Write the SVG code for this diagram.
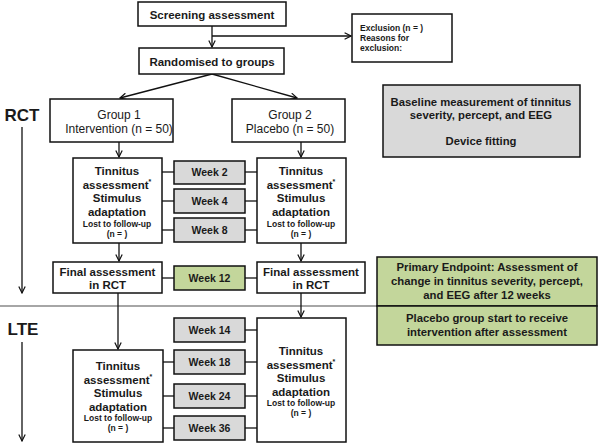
<svg xmlns="http://www.w3.org/2000/svg" width="600" height="444" viewBox="0 0 600 444">
<defs>
<style>
text{font-family:"Liberation Sans",Arial,sans-serif;font-weight:bold;fill:#1a1a1a;text-anchor:middle}
.box{fill:#fff;stroke:#111;stroke-width:1.5}
.gray{fill:#d9d9d9;stroke:#111;stroke-width:1.5}
.green{fill:#c3d69b;stroke:#111;stroke-width:1.5}
.ln{stroke:#111;stroke-width:1.3;fill:none}
.arr{stroke:#111;stroke-width:1.3;fill:none;marker-end:url(#ah)}
.sep{stroke:#888;stroke-width:1.3}
.t13{font-size:11.5px}
.tt{font-size:11.5px}
.t12{font-size:11.3px}
.t11{font-size:10.5px}
.t9{font-size:8.5px}
.t18{font-size:17px}
.reg{font-weight:normal;font-size:12px}
</style>
<marker id="ah" viewBox="0 0 10 10" refX="9" refY="5" markerWidth="8" markerHeight="8" markerUnits="userSpaceOnUse" orient="auto">
<path d="M1,1 L9,5 L1,9" fill="none" stroke="#111" stroke-width="1.5"/>
</marker>
</defs>
<rect width="600" height="444" fill="#fff"/>
<g id="connectors">
<line class="sep" x1="0" y1="306" x2="377" y2="306"/>
<line class="arr" x1="212" y1="26" x2="212" y2="47"/>
<line class="arr" x1="212" y1="36" x2="351" y2="36"/>
<line class="arr" x1="212" y1="74" x2="120" y2="98"/>
<line class="arr" x1="212" y1="74" x2="297" y2="98"/>
<line class="arr" x1="119" y1="142" x2="119" y2="157"/>
<line class="arr" x1="301" y1="142" x2="301" y2="157"/>
<line class="arr" x1="119" y1="243" x2="119" y2="261"/>
<line class="arr" x1="301" y1="243" x2="301" y2="261"/>
<line class="arr" x1="118" y1="293" x2="118" y2="349"/>
<line class="arr" x1="301" y1="293" x2="301" y2="317"/>
<line class="ln" x1="162" y1="172" x2="174" y2="172"/>
<line class="ln" x1="245" y1="172" x2="257" y2="172"/>
<line class="ln" x1="162" y1="201" x2="174" y2="201"/>
<line class="ln" x1="245" y1="201" x2="257" y2="201"/>
<line class="ln" x1="162" y1="230" x2="174" y2="230"/>
<line class="ln" x1="245" y1="230" x2="257" y2="230"/>
<line class="ln" x1="162" y1="278" x2="174" y2="278"/>
<line class="ln" x1="245" y1="278" x2="257" y2="278"/>
<line class="ln" x1="245" y1="330" x2="257" y2="330"/>
<line class="ln" x1="163" y1="362" x2="174" y2="362"/>
<line class="ln" x1="245" y1="362" x2="257" y2="362"/>
<line class="ln" x1="163" y1="396" x2="174" y2="396"/>
<line class="ln" x1="245" y1="396" x2="257" y2="396"/>
<line class="ln" x1="163" y1="428" x2="174" y2="428"/>
<line class="ln" x1="245" y1="428" x2="257" y2="428"/>
<line class="arr" x1="22" y1="127" x2="22" y2="293"/>
<line class="arr" x1="22" y1="342" x2="22" y2="441"/>
</g>
<g id="label-rct"><text class="t18" x="22" y="121">RCT</text></g>
<g id="label-lte"><text class="t18" x="23" y="335">LTE</text></g>
<g id="screening"><rect class="box" x="138" y="2" width="148" height="24"/><text class="t13" x="212" y="18.5">Screening assessment</text></g>
<g id="exclusion"><rect class="box" x="352" y="14" width="100" height="48"/>
<text class="t9" x="360" y="31" style="text-anchor:start">Exclusion  (n = )</text>
<text class="t9" x="360" y="41" style="text-anchor:start">Reasons for</text>
<text class="t9" x="360" y="51" style="text-anchor:start">exclusion:</text></g>
<g id="randomised"><rect class="box" x="139" y="48" width="145" height="26"/><text class="t13" x="212" y="65.5">Randomised to groups</text></g>
<g id="group1"><rect class="box" x="50" y="99" width="123" height="43"/>
<text class="reg" x="119" y="119">Group 1</text><text class="reg" x="119" y="133">Intervention (n = 50)</text></g>
<g id="group2"><rect class="box" x="232" y="99" width="113" height="43"/>
<text class="reg" x="290" y="119">Group 2</text><text class="reg" x="290" y="133">Placebo (n = 50)</text></g>
<g id="baseline"><rect class="gray" x="383" y="85" width="197" height="72"/>
<text class="t12" x="481" y="106">Baseline measurement of tinnitus</text>
<text class="t12" x="481" y="119">severity, percept, and EEG</text>
<text class="t12" x="481" y="145">Device fitting</text></g>
<g id="rct-tin1"><rect class="box" x="73" y="158" width="89" height="85"/>
<text class="tt" x="117" y="175">Tinnitus</text><text class="tt" x="117" y="189">assessment<tspan font-size="7" dy="-5">*</tspan></text>
<text class="tt" x="117" y="202">Stimulus</text><text class="tt" x="117" y="216">adaptation</text>
<text class="t9" x="117" y="227">Lost to follow-up</text><text class="t9" x="117" y="237">(n = )</text></g>
<g id="rct-tin2"><rect class="box" x="257" y="158" width="89" height="85"/>
<text class="tt" x="301" y="175">Tinnitus</text><text class="tt" x="301" y="189">assessment<tspan font-size="7" dy="-5">*</tspan></text>
<text class="tt" x="301" y="202">Stimulus</text><text class="tt" x="301" y="216">adaptation</text>
<text class="t9" x="301" y="227">Lost to follow-up</text><text class="t9" x="301" y="237">(n = )</text></g>
<g id="week2"><rect class="gray" x="174" y="161" width="71" height="23"/><text class="t11" x="209.5" y="176">Week 2</text></g>
<g id="week4"><rect class="gray" x="174" y="189" width="71" height="24"/><text class="t11" x="209.5" y="205">Week 4</text></g>
<g id="week8"><rect class="gray" x="174" y="218" width="71" height="24"/><text class="t11" x="209.5" y="234">Week 8</text></g>
<g id="final1"><rect class="box" x="53" y="262" width="109" height="31"/>
<text class="t13" x="107.5" y="276">Final assessment</text><text class="t13" x="107.5" y="289">in RCT</text></g>
<g id="final2"><rect class="box" x="257" y="262" width="108" height="31"/>
<text class="t13" x="311" y="276">Final assessment</text><text class="t13" x="311" y="289">in RCT</text></g>
<g id="week12"><rect class="green" x="174" y="266" width="71" height="24"/><text class="t11" x="209.5" y="282">Week 12</text></g>
<g id="endpoint"><rect class="green" x="377" y="257" width="220" height="49"/>
<text class="t12" x="487" y="271">Primary Endpoint: Assessment of</text>
<text class="t12" x="487" y="285">change in tinnitus  severity, percept,</text>
<text class="t12" x="487" y="299">and EEG after 12 weeks</text></g>
<g id="placebo-start"><rect class="green" x="377" y="306" width="220" height="39"/>
<text class="t12" x="487" y="322">Placebo group start to receive</text>
<text class="t12" x="487" y="336">intervention after assessment</text></g>
<g id="lte-tin1"><rect class="box" x="73" y="350" width="90" height="92"/>
<text class="tt" x="118" y="370">Tinnitus</text><text class="tt" x="118" y="384">assessment<tspan font-size="7" dy="-5">*</tspan></text>
<text class="tt" x="118" y="397">Stimulus</text><text class="tt" x="118" y="411">adaptation</text>
<text class="t9" x="118" y="421">Lost to follow-up</text><text class="t9" x="118" y="431">(n = )</text></g>
<g id="lte-tin2"><rect class="box" x="257" y="318" width="89" height="124"/>
<text class="tt" x="301" y="355">Tinnitus</text><text class="tt" x="301" y="369">assessment<tspan font-size="7" dy="-5">*</tspan></text>
<text class="tt" x="301" y="382">Stimulus</text><text class="tt" x="301" y="396">adaptation</text>
<text class="t9" x="301" y="406">Lost to follow-up</text><text class="t9" x="301" y="416">(n = )</text></g>
<g id="week14"><rect class="gray" x="174" y="318" width="71" height="24"/><text class="t11" x="209.5" y="334">Week 14</text></g>
<g id="week18"><rect class="gray" x="174" y="350" width="71" height="24"/><text class="t11" x="209.5" y="366">Week 18</text></g>
<g id="week24"><rect class="gray" x="174" y="384" width="71" height="24"/><text class="t11" x="209.5" y="400">Week 24</text></g>
<g id="week36"><rect class="gray" x="174" y="416" width="71" height="24"/><text class="t11" x="209.5" y="432">Week 36</text></g>
</svg>
